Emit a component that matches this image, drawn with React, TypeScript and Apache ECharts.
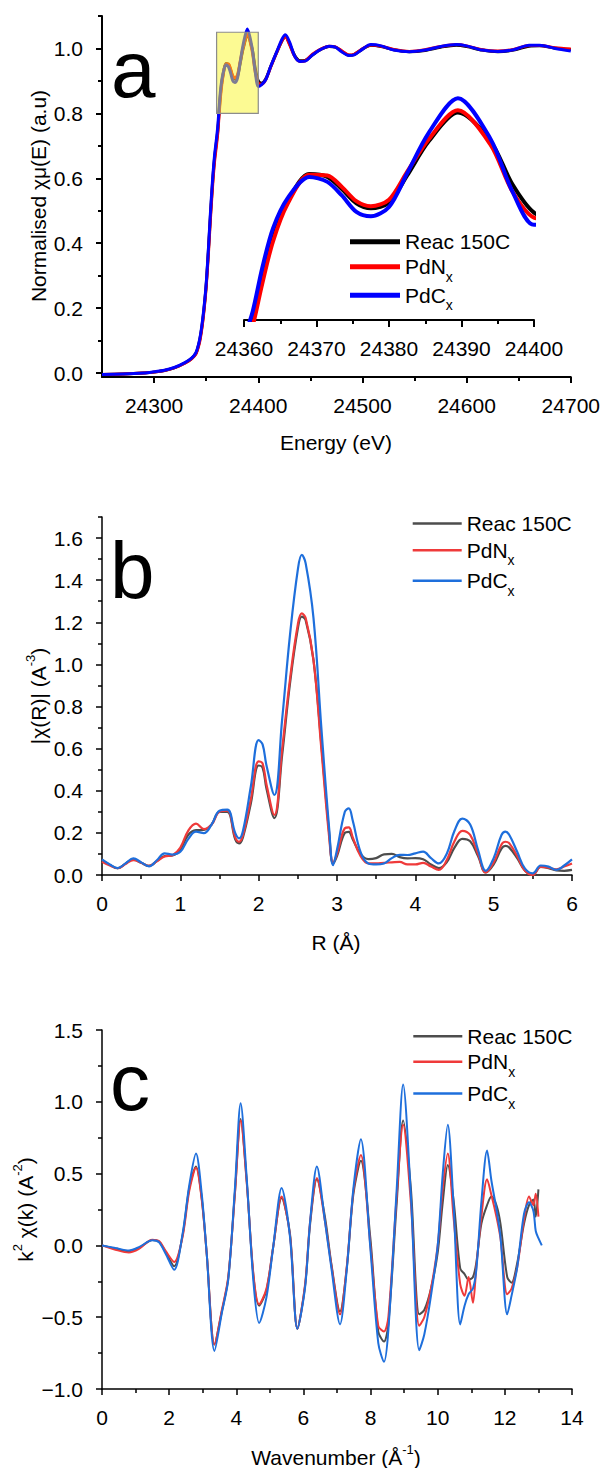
import React, { useEffect, useRef } from "react";
import * as echarts from "echarts";

const FONT = "'Liberation Sans', Arial, Helvetica, sans-serif";

// ---------- Panel a : XANES ----------
const ENERGY = [24250, 24270, 24290, 24300, 24310, 24320, 24330, 24336, 24340, 24342, 24344, 24346, 24348, 24350, 24352, 24354, 24356, 24358, 24360, 24361.2, 24362.5, 24364, 24366, 24369, 24371.5, 24373.5, 24375.5, 24377.5, 24380, 24382.5, 24385.5, 24389.5, 24394, 24397, 24400, 24403, 24407, 24412, 24418, 24423, 24426, 24430, 24435, 24440, 24445, 24452, 24460, 24468, 24474, 24480, 24487, 24492, 24500, 24508, 24518, 24530, 24545, 24560, 24575, 24590, 24600, 24615, 24630, 24645, 24660, 24670, 24685, 24700];
const XANES_REAC = [-0.004, -0.003, 0.0, 0.003, 0.008, 0.017, 0.032, 0.045, 0.06, 0.078, 0.105, 0.145, 0.2, 0.27, 0.37, 0.48, 0.58, 0.66, 0.715, 0.75, 0.81, 0.868, 0.915, 0.954, 0.95, 0.933, 0.913, 0.906, 0.914, 0.952, 1.0, 1.04, 1.0, 0.94, 0.9, 0.893, 0.905, 0.945, 0.99, 1.025, 1.037, 1.015, 0.978, 0.962, 0.963, 0.98, 0.997, 1.006, 1.004, 0.992, 0.979, 0.981, 0.998, 1.01, 1.006, 0.996, 0.99, 0.994, 1.004, 1.01, 1.006, 0.995, 0.99, 0.995, 1.007, 1.008, 1.001, 0.997];
const XANES_PDN = [-0.004, -0.003, 0.0, 0.003, 0.008, 0.017, 0.031, 0.044, 0.058, 0.075, 0.1, 0.14, 0.195, 0.265, 0.36, 0.47, 0.57, 0.65, 0.705, 0.742, 0.8, 0.86, 0.912, 0.953, 0.952, 0.936, 0.916, 0.909, 0.918, 0.957, 1.003, 1.043, 0.995, 0.93, 0.893, 0.89, 0.903, 0.943, 0.99, 1.025, 1.036, 1.012, 0.975, 0.96, 0.962, 0.982, 0.998, 1.007, 1.005, 0.993, 0.98, 0.982, 0.999, 1.011, 1.007, 0.997, 0.991, 0.996, 1.006, 1.012, 1.008, 0.996, 0.992, 0.997, 1.009, 1.009, 1.002, 0.998];
const XANES_PDC = [-0.004, -0.003, 0.0, 0.004, 0.009, 0.018, 0.033, 0.046, 0.062, 0.08, 0.108, 0.15, 0.205, 0.275, 0.375, 0.49, 0.59, 0.67, 0.725, 0.762, 0.822, 0.878, 0.92, 0.95, 0.943, 0.924, 0.901, 0.895, 0.908, 0.955, 1.012, 1.06, 1.003, 0.93, 0.883, 0.888, 0.903, 0.945, 0.992, 1.03, 1.042, 1.02, 0.976, 0.96, 0.961, 0.98, 0.997, 1.007, 1.004, 0.99, 0.978, 0.98, 0.998, 1.012, 1.008, 0.995, 0.99, 0.995, 1.006, 1.012, 1.008, 0.995, 0.991, 0.996, 1.01, 1.01, 1.0, 0.992];
const ENERGY_TICKS = [24300, 24400, 24500, 24600, 24700];
const ENERGY_MINOR = [24350, 24450, 24550, 24650];
const NORM_TICKS = [0, 0.2, 0.4, 0.6, 0.8, 1.0];
const NORM_MINOR = [0.1, 0.3, 0.5, 0.7, 0.9, 1.1];
const ZOOM_BOX = [[24360, 0.8, 24400, 1.05]];

// ---------- Panel b : FT magnitude ----------
const R_VALUES = [0, 0.1, 0.2, 0.3, 0.4, 0.5, 0.6, 0.7, 0.8, 0.9, 1.0, 1.1, 1.2, 1.3, 1.4, 1.5, 1.6, 1.7, 1.75, 1.8, 1.9, 2.0, 2.05, 2.1, 2.2, 2.3, 2.4, 2.5, 2.55, 2.6, 2.7, 2.8, 2.9, 2.95, 3.0, 3.1, 3.15, 3.2, 3.3, 3.4, 3.5, 3.6, 3.7, 3.8, 3.9, 4.0, 4.1, 4.2, 4.3, 4.4, 4.5, 4.6, 4.7, 4.8, 4.9, 5.0, 5.1, 5.15, 5.2, 5.3, 5.4, 5.5, 5.6, 5.7, 5.8, 5.9, 6.0];
const FT_PDC = [0.074, 0.05, 0.033, 0.055, 0.079, 0.06, 0.041, 0.07, 0.103, 0.097, 0.11, 0.17, 0.206, 0.199, 0.24, 0.305, 0.31, 0.2, 0.174, 0.21, 0.42, 0.64, 0.62, 0.52, 0.38, 0.74, 1.14, 1.45, 1.52, 1.48, 1.22, 0.7, 0.22, 0.047, 0.12, 0.3, 0.316, 0.26, 0.11, 0.055, 0.05, 0.055, 0.08, 0.096, 0.095, 0.103, 0.111, 0.08, 0.055, 0.1, 0.21, 0.268, 0.24, 0.12, 0.02, 0.08, 0.19, 0.206, 0.19, 0.11, 0.03, 0.008, 0.045, 0.04, 0.024, 0.045, 0.074];
const FT_PDN = [0.063, 0.045, 0.032, 0.052, 0.071, 0.058, 0.043, 0.065, 0.088, 0.094, 0.13, 0.21, 0.244, 0.218, 0.24, 0.3, 0.305, 0.18, 0.158, 0.19, 0.36, 0.54, 0.53, 0.43, 0.285, 0.6, 0.93, 1.19, 1.242, 1.22, 1.02, 0.6, 0.18, 0.06, 0.1, 0.222, 0.226, 0.18, 0.09, 0.055, 0.055, 0.058, 0.06, 0.062, 0.05, 0.05, 0.058, 0.04, 0.024, 0.07, 0.16, 0.21, 0.19, 0.1, 0.012, 0.06, 0.145, 0.158, 0.15, 0.09, 0.02, 0.0, 0.038, 0.035, 0.027, 0.04, 0.055];
const FT_REAC = [0.07, 0.048, 0.032, 0.054, 0.074, 0.058, 0.043, 0.066, 0.09, 0.093, 0.12, 0.19, 0.213, 0.214, 0.24, 0.3, 0.3, 0.17, 0.15, 0.18, 0.34, 0.52, 0.51, 0.41, 0.27, 0.57, 0.91, 1.17, 1.227, 1.21, 1.02, 0.62, 0.2, 0.055, 0.09, 0.2, 0.205, 0.17, 0.1, 0.075, 0.08, 0.098, 0.1, 0.085, 0.079, 0.08, 0.075, 0.05, 0.033, 0.06, 0.13, 0.172, 0.16, 0.09, 0.012, 0.05, 0.125, 0.138, 0.13, 0.08, 0.02, 0.0, 0.038, 0.033, 0.022, 0.02, 0.024];
const FT_TICKS = [0, 0.2, 0.4, 0.6, 0.8, 1.0, 1.2, 1.4, 1.6];
const FT_MINOR = [0.1, 0.3, 0.5, 0.7, 0.9, 1.1, 1.3, 1.5, 1.7];

// ---------- Panel c : k2 chi(k) ----------
const K_VALUES = [0, 0.4, 0.8, 1.1, 1.5, 1.7, 1.9, 2.15, 2.4, 2.6, 2.8, 2.97, 3.12, 3.35, 3.57, 3.76, 3.96, 4.13, 4.31, 4.51, 4.68, 4.9, 5.1, 5.35, 5.6, 5.82, 6.05, 6.2, 6.4, 6.64, 6.84, 7.09, 7.29, 7.49, 7.71, 7.99, 8.23, 8.4, 8.53, 8.78, 8.97, 9.2, 9.45, 9.6, 9.8, 10.0, 10.15, 10.3, 10.47, 10.67, 10.8, 10.92, 11.05, 11.15, 11.3, 11.47, 11.6, 11.75, 11.87, 12.07, 12.2, 12.37, 12.57, 12.72, 12.85, 12.92, 13.0, 13.1];
const CHI_PDC = [0, -0.018, -0.035, -0.012, 0.035, 0.022, -0.06, -0.17, 0.08, 0.42, 0.64, 0.36, -0.06, -0.735, -0.47, -0.24, 0.4, 0.99, 0.47, -0.25, -0.54, -0.36, -0.01, 0.4, 0.06, -0.58, -0.29, 0.17, 0.55, 0.17, -0.17, -0.55, -0.17, 0.4, 0.74, -0.01, -0.68, -0.81, -0.59, 0.4, 1.12, 0.35, -0.73, -0.62, -0.35, 0.0, 0.5, 0.84, 0.29, -0.55, -0.42, -0.34, -0.3, -0.17, 0.3, 0.66, 0.45, 0.25, 0.06, -0.48, -0.35, -0.15, 0.22, 0.3, 0.24, 0.1, 0.05, 0.0];
const CHI_PDN = [0, -0.03, -0.05, -0.025, 0.04, 0.03, -0.04, -0.115, 0.06, 0.38, 0.54, 0.32, -0.06, -0.69, -0.45, -0.22, 0.36, 0.87, 0.44, -0.2, -0.41, -0.3, -0.01, 0.34, 0.07, -0.58, -0.27, 0.17, 0.47, 0.17, -0.15, -0.48, -0.15, 0.38, 0.63, 0.01, -0.56, -0.6, -0.5, 0.35, 0.84, 0.3, -0.56, -0.5, -0.3, 0.0, 0.4, 0.64, 0.2, -0.27, -0.35, -0.22, -0.4, -0.15, 0.2, 0.46, 0.35, 0.2, 0.05, -0.34, -0.3, -0.15, 0.18, 0.34, 0.28, 0.36, 0.2, null];
const CHI_REAC = [0, -0.022, -0.04, -0.018, 0.038, 0.025, -0.05, -0.145, 0.07, 0.4, 0.55, 0.33, -0.06, -0.69, -0.46, -0.23, 0.37, 0.88, 0.45, -0.21, -0.42, -0.31, -0.01, 0.33, 0.08, -0.58, -0.28, 0.15, 0.46, 0.2, -0.14, -0.46, -0.16, 0.36, 0.59, 0.06, -0.6, -0.67, -0.55, 0.3, 0.87, 0.4, -0.48, -0.45, -0.3, -0.05, 0.3, 0.56, 0.32, -0.16, -0.2, -0.24, -0.22, -0.12, 0.15, 0.28, 0.34, 0.28, 0.15, -0.22, -0.26, -0.12, 0.15, 0.28, 0.32, 0.2, 0.39, null];

const NAMES = ["Reac 150C", "PdNx", "PdCx"];

const LABEL = { fontFamily: FONT, fontSize: 21, color: "#000" };
const AXIS_COLOR = "#000";

function pairs(xs: number[], ys: (number | null)[]) {
  return xs.map((x, i) => [x, ys[i]]);
}

function legendFormatter(name: string) {
  if (name === "PdNx") return "{b|PdN}{s|x}";
  if (name === "PdCx") return "{b|PdC}{s|x}";
  return "{b|" + name + "}";
}

function legendItem(name: string, left: number, centerY: number, iconW: number, iconH: number) {
  return {
    data: [name],
    left,
    top: centerY - 17,
    orient: "vertical",
    padding: 0,
    itemGap: 0,
    itemWidth: iconW,
    itemHeight: iconH,
    icon: "rect",
    selectedMode: false,
    itemStyle: { borderWidth: 0 },
    formatter: legendFormatter,
    textStyle: {
      fontFamily: FONT,
      fontSize: 21,
      color: "#000",
      rich: {
        b: { fontFamily: FONT, fontSize: 21, color: "#000", lineHeight: 34 },
        s: { fontFamily: FONT, fontSize: 14, color: "#000", lineHeight: 14, verticalAlign: "bottom" },
      },
    },
  };
}

const RICH = {
  n: { fontFamily: FONT, fontSize: 21, fill: "#000", lineHeight: 28 },
  sup: { fontFamily: FONT, fontSize: 13, fill: "#000", lineHeight: 12, verticalAlign: "top" },
};

function titleText(x: number, y: number, text: string, rotate = false) {
  return {
    type: "text",
    x,
    y,
    rotation: rotate ? Math.PI / 2 : 0,
    silent: true,
    style: {
      text,
      rich: RICH,
      fontFamily: FONT,
      fontSize: 21,
      fill: "#000",
      align: "center",
      verticalAlign: "middle",
    },
  };
}

function panelLetter(x: number, y: number, letter: string) {
  return {
    type: "text",
    x,
    y,
    silent: true,
    style: { text: letter, fontFamily: FONT, fontSize: 80, fill: "#000", align: "left", verticalAlign: "middle" },
  };
}

function fmt1(v: number) {
  const s = Math.abs(v).toFixed(1);
  return (v < -1e-9 ? "\u2212" : "") + s;
}

function fmtInt(v: number) {
  return String(Math.round(v));
}

function lineSeries(name: string, xs: number[], ys: (number | null)[], color: string, width: number, smooth: number, xi = 0, yi = 0, z = 2) {
  return {
    type: "line",
    name,
    xAxisIndex: xi,
    yAxisIndex: yi,
    data: pairs(xs, ys),
    symbol: "none",
    smooth,
    z,
    lineStyle: { color, width },
    itemStyle: { color },
  };
}

function majorAxis(extra: any, lw: number) {
  return {
    type: "value",
    axisLine: { show: true, onZero: false, lineStyle: { color: AXIS_COLOR, width: lw } },
    axisTick: { show: true, length: 6, lineStyle: { color: AXIS_COLOR, width: lw } },
    splitLine: { show: false },
    minorSplitLine: { show: false },
    ...extra,
  };
}

// ----- options -----
function optionA() {
  const colors = ["#000000", "#ff0000", "#0000ff"];
  const arrs = [XANES_REAC, XANES_PDN, XANES_PDC];
  return {
    animation: false,
    textStyle: { fontFamily: FONT },
    grid: [
      { left: 102, top: 16, width: 470, height: 361 },
      { left: 244, top: 91, width: 290, height: 229 },
    ],
    xAxis: [
      majorAxis({
        gridIndex: 0, position: "bottom", min: 24250, max: 24700,
        axisTick: { show: true, length: 6, customValues: ENERGY_TICKS, lineStyle: { color: AXIS_COLOR, width: 2 } },
        axisLabel: { ...LABEL, margin: 18, customValues: ENERGY_TICKS, formatter: fmtInt },
      }, 2),
      {
        type: "value", gridIndex: 0, position: "bottom", min: 24250, max: 24700,
        axisLine: { show: false, onZero: false },
        axisTick: { show: true, length: 4, customValues: ENERGY_MINOR, lineStyle: { color: AXIS_COLOR, width: 2 } },
        axisLabel: { show: false }, splitLine: { show: false },
      },
      majorAxis({
        gridIndex: 1, position: "bottom", min: 24360, max: 24400, interval: 10,
        axisTick: { show: true, length: 7, lineStyle: { color: AXIS_COLOR, width: 2 } },
        minorTick: { show: true, splitNumber: 2, length: 4, lineStyle: { color: AXIS_COLOR, width: 2 } },
        axisLabel: { ...LABEL, margin: 18, formatter: fmtInt },
      }, 2),
    ],
    yAxis: [
      majorAxis({
        gridIndex: 0, position: "left", min: -0.012, max: 1.1,
        axisTick: { show: true, length: 6, customValues: NORM_TICKS, lineStyle: { color: AXIS_COLOR, width: 2 } },
        axisLabel: { ...LABEL, margin: 19, customValues: NORM_TICKS, formatter: fmt1 },
      }, 2),
      {
        type: "value", gridIndex: 0, position: "left", min: -0.012, max: 1.1,
        axisLine: { show: false, onZero: false },
        axisTick: { show: true, length: 4, customValues: NORM_MINOR, lineStyle: { color: AXIS_COLOR, width: 2 } },
        axisLabel: { show: false }, splitLine: { show: false },
      },
      { type: "value", gridIndex: 1, show: false, min: 0.75, max: 1.07, splitLine: { show: false } },
    ],
    legend: [
      legendItem(NAMES[0], 350, 248.3, 50, 5),
      legendItem(NAMES[1], 350, 273.3, 50, 5),
      legendItem(NAMES[2], 350, 301.7, 50, 5),
    ],
    graphic: [
      panelLetter(111, 69, "a"),
      titleText(336, 442, "{n|Energy (eV)}"),
      titleText(38, 196, "{n|Normalised \u03c7\u03bc(E) (a.u)}", true),
    ],
    series: [
      ...NAMES.map((n, i) => lineSeries(n, ENERGY, arrs[i], colors[i], 3, 0.3, 0, 0, 2)),
      ...NAMES.map((n, i) => lineSeries(n, ENERGY, arrs[i], colors[i], 4, 0.3, 2, 2, 3)),
      {
        type: "custom",
        xAxisIndex: 0,
        yAxisIndex: 0,
        z: 10,
        silent: true,
        data: ZOOM_BOX,
        encode: { x: [0, 2], y: [1, 3] },
        renderItem: (_params: any, api: any) => {
          const p0 = api.coord([api.value(0), api.value(1)]);
          const p1 = api.coord([api.value(2), api.value(3)]);
          return {
            type: "rect",
            shape: { x: p0[0], y: p1[1], width: p1[0] - p0[0], height: p0[1] - p1[1] },
            style: { fill: "rgba(250,245,40,0.5)", stroke: "#8c8c8c", lineWidth: 1.2 },
          };
        },
      },
    ],
  };
}

const SOFT = ["#4d4d4d", "#ef3a3a", "#1e6fdc"];

function optionB() {
  const arrs = [FT_REAC, FT_PDN, FT_PDC];
  return {
    animation: false,
    textStyle: { fontFamily: FONT },
    grid: { left: 102, top: 47, width: 470, height: 358 },
    xAxis: majorAxis({
      position: "bottom", min: 0, max: 6, interval: 1,
      minorTick: { show: true, splitNumber: 2, length: 4, lineStyle: { color: AXIS_COLOR, width: 1.5 } },
      axisLabel: { ...LABEL, margin: 18, formatter: fmtInt },
    }, 1.5),
    yAxis: [
      majorAxis({
        position: "left", min: 0, max: 1.7,
        axisTick: { show: true, length: 6, customValues: FT_TICKS, lineStyle: { color: AXIS_COLOR, width: 1.5 } },
        axisLabel: { ...LABEL, margin: 19, customValues: FT_TICKS, formatter: fmt1 },
      }, 1.5),
      {
        type: "value", position: "left", min: 0, max: 1.7,
        axisLine: { show: false, onZero: false },
        axisTick: { show: true, length: 4, customValues: FT_MINOR, lineStyle: { color: AXIS_COLOR, width: 1.5 } },
        axisLabel: { show: false }, splitLine: { show: false },
      },
    ],
    legend: [
      legendItem(NAMES[0], 412.7, 60, 49, 2.5),
      legendItem(NAMES[1], 412.7, 86.7, 49, 2.5),
      legendItem(NAMES[2], 412.7, 117.3, 49, 2.5),
    ],
    graphic: [
      panelLetter(110, 100, "b"),
      titleText(336, 472, "{n|R (\u00c5)}"),
      titleText(38, 226, "{n||\u03c7(R)| (A}{sup|-3}{n|)}", true),
    ],
    series: NAMES.map((n, i) => lineSeries(n, R_VALUES, arrs[i], SOFT[i], 2.2, 0.4)),
  };
}

function optionC() {
  const arrs = [CHI_REAC, CHI_PDN, CHI_PDC];
  return {
    animation: false,
    textStyle: { fontFamily: FONT },
    grid: { left: 102, top: 70, width: 470, height: 359 },
    xAxis: majorAxis({
      position: "bottom", min: 0, max: 14, interval: 2,
      minorTick: { show: true, splitNumber: 2, length: 4, lineStyle: { color: AXIS_COLOR, width: 1.5 } },
      axisLabel: { ...LABEL, margin: 18, formatter: fmtInt },
    }, 1.5),
    yAxis: majorAxis({
      position: "left", min: -1, max: 1.5, interval: 0.5,
      minorTick: { show: true, splitNumber: 2, length: 4, lineStyle: { color: AXIS_COLOR, width: 1.5 } },
      axisLabel: { ...LABEL, margin: 19, formatter: fmt1 },
    }, 1.5),
    legend: [
      legendItem(NAMES[0], 413.3, 82.7, 49, 2.5),
      legendItem(NAMES[1], 413.3, 108.3, 49, 2.5),
      legendItem(NAMES[2], 413.3, 140, 49, 2.5),
    ],
    graphic: [
      panelLetter(110, 122, "c"),
      titleText(336, 497, "{n|Wavenumber (\u00c5}{sup|-1}{n|)}"),
      titleText(25, 249.5, "{n|k}{sup|2}{n| \u03c7(k) (A}{sup|-2}{n|)}", true),
    ],
    series: NAMES.map((n, i) => lineSeries(n, K_VALUES, arrs[i], SOFT[i], 2, 0.3)),
  };
}

export default function App() {
  const refA = useRef<HTMLDivElement>(null);
  const refB = useRef<HTMLDivElement>(null);
  const refC = useRef<HTMLDivElement>(null);

  useEffect(() => {
    const charts: echarts.ECharts[] = [];
    const list: [React.RefObject<HTMLDivElement>, any][] = [
      [refA, optionA()],
      [refB, optionB()],
      [refC, optionC()],
    ];
    list.forEach(([r, opt]) => {
      if (!r.current) return;
      const c = echarts.init(r.current, null, { renderer: "svg" });
      c.setOption(opt);
      charts.push(c);
    });
    return () => charts.forEach((c) => c.dispose());
  }, []);

  return (
    <div style={{ position: "absolute", left: 0, top: 0, width: 603, height: 1468, background: "#fff" }}>
      <div ref={refA} style={{ position: "absolute", left: 0, top: 0, width: 603, height: 470 }} />
      <div ref={refB} style={{ position: "absolute", left: 0, top: 470, width: 603, height: 490 }} />
      <div ref={refC} style={{ position: "absolute", left: 0, top: 960, width: 603, height: 508 }} />
    </div>
  );
}
